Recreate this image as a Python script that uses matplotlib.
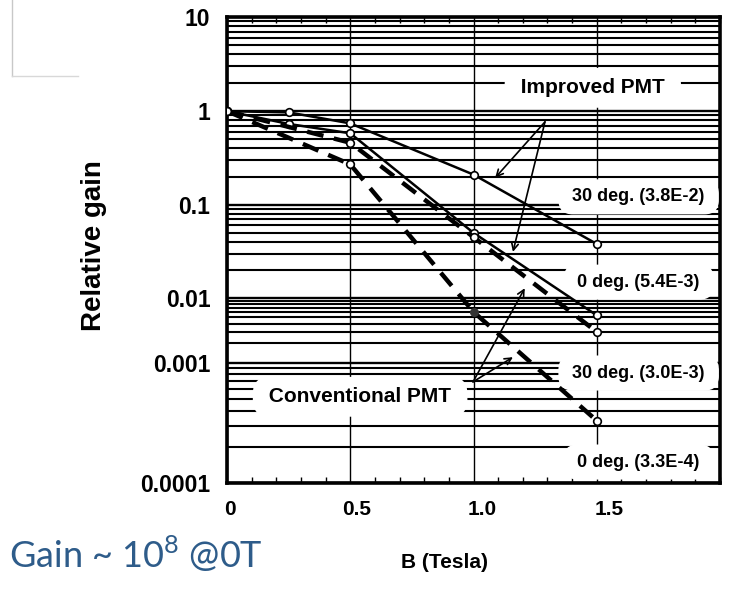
import numpy as np
import matplotlib
matplotlib.use("Agg")
from matplotlib import pyplot as plt
from matplotlib.ticker import FixedLocator, MultipleLocator, NullFormatter
from matplotlib.lines import Line2D
from matplotlib.transforms import ScaledTranslation

# Data
b_improved = [0, 0.25, 0.5, 1.0, 1.5]
improved_30 = [1.0, 0.97, 0.74, 0.21, 0.038]
improved_0 = [1.0, 0.73, 0.58, 0.05, 0.0054]

b_conv = [0, 0.5, 1.0, 1.5]
conv_30 = [1.0, 0.46, 0.045, 0.003]
conv_0 = [1.0, 0.27, 0.0061, 0.00033]

y_ticks = [10, 1, 0.1, 0.01, 0.001, 0.0001]
y_tick_labels = ['10', '1', '0.1', '0.01', '0.001', '0.0001']
x_ticks = [0, 0.5, 1.0, 1.5]
x_tick_labels = ['0', '0.5', '1.0', '1.5']

series_labels = ['30 deg. (3.8E-2)', '0 deg. (5.4E-3)',
                 '30 deg. (3.0E-3)', '0 deg. (3.3E-4)']

# The scanned graph paper has uneven decades: decade -> axes height
dec_log = [-4, -3, -2, -1, 0, 1]
dec_frac = [0.0, 0.258, 0.397, 0.597, 0.798, 1.0]

def fwd(y):
    y = np.clip(np.asarray(y, dtype=float), 1e-12, None)
    return np.interp(np.log10(y), dec_log, dec_frac, left=-1, right=2)

def inv(v):
    return 10 ** np.interp(np.asarray(v, dtype=float), dec_frac, dec_log)

plt.close("all")
fig = plt.figure(figsize=(7.4, 5.91), dpi=100)
ax = fig.add_axes([227/740, 1 - 483/591, 493/740, 466/591])

ax.set_yscale('function', functions=(fwd, inv))
ax.set_ylim(1e-4, 10)
ax.set_xlim(0, 2.0)

minor_y = [m * 10.0**e for e in range(-4, 1) for m in range(2, 10)]
ax.yaxis.set_major_locator(FixedLocator(y_ticks))
ax.yaxis.set_minor_locator(FixedLocator(minor_y))
ax.yaxis.set_minor_formatter(NullFormatter())
ax.set_yticklabels(y_tick_labels)
ax.xaxis.set_major_locator(FixedLocator(x_ticks))
ax.xaxis.set_minor_locator(MultipleLocator(0.1))
ax.set_xticklabels(x_tick_labels)

# graph paper grid
ax.grid(which='major', axis='y', color='black', lw=1.7, zorder=0)
ax.grid(which='minor', axis='y', color='black', lw=1.5, zorder=0)
ax.grid(which='major', axis='x', color='black', lw=1.0, zorder=0)
ax.set_axisbelow(True)

ax.tick_params(axis='both', which='major', length=0, pad=12)
ax.tick_params(axis='x', which='minor', direction='in', top=True,
               bottom=True, length=4, width=1)
ax.tick_params(axis='y', which='minor', length=0)
for s in ax.spines.values():
    s.set_linewidth(2.6)

for lab in ax.get_yticklabels():
    lab.set_fontfamily('Liberation Sans')
    lab.set_fontweight('bold')
    lab.set_fontsize(16.5)
# x labels in the scan sit a little right of their grid lines
for i, lab in enumerate(ax.get_xticklabels()):
    lab.set_fontfamily('Liberation Sans')
    lab.set_fontweight('bold')
    lab.set_fontsize(15)
    lab.set_transform(lab.get_transform() +
                      ScaledTranslation(0.03 + 0.03 * i, 0, fig.dpi_scale_trans))

# curves
mk = dict(marker='o', ms=5.5, mfc='white', mec='black', mew=1.2)
ax.plot(b_improved, improved_30, color='black', lw=1.8, zorder=4, **mk)
ax.plot(b_improved, improved_0, color='black', lw=1.8, zorder=4, **mk)
ax.plot(b_conv, conv_30, color='black', lw=3.2, ls=(0, (3.8, 2.4)), zorder=4, **mk)
ax.plot(b_conv, conv_0, color='black', lw=3.2, ls=(0, (3.8, 2.4)), zorder=4,
        marker='o', ms=5.5, mec='black', mew=1.2,
        markevery=[0, 1, 3], mfc='white')
ax.plot(b_conv[2], conv_0[2], marker='o', ms=5.5, color='#333333', zorder=5)

# label boxes
box = dict(boxstyle='round,pad=0.5,rounding_size=0.8', fc='white', ec='none')
txt = dict(family='Liberation Sans', weight='bold', ha='center', va='center',
           transform=ax.transAxes, zorder=3, bbox=box)
ax.text(0.742, 0.848, ' Improved PMT ', fontsize=15, **txt)
ax.text(0.270, 0.185, ' Conventional PMT ', fontsize=15, **txt)
for fy, lab in zip([0.614, 0.431, 0.236, 0.045], series_labels):
    ax.text(0.835, fy, ' ' + lab + ' ', fontsize=13, **txt)

# arrows
arr = dict(arrowstyle='->', lw=1.2, color='black', shrinkA=0, shrinkB=0,
           mutation_scale=12)
for head in [(0.544, 0.655), (0.580, 0.496)]:
    ax.annotate('', xy=head, xytext=(0.645, 0.775), xycoords='axes fraction',
                arrowprops=arr, zorder=6)
for head in [(0.604, 0.418), (0.580, 0.270)]:
    ax.annotate('', xy=head, xytext=(0.499, 0.217), xycoords='axes fraction',
                arrowprops=arr, zorder=6)

ax.set_ylabel('Relative gain', family='Liberation Sans', weight='bold',
              fontsize=20)
ax.yaxis.set_label_coords(-0.243, 0.51)
ax.set_xlabel('B (Tesla)', family='Liberation Sans', weight='bold', fontsize=15)
ax.xaxis.set_label_coords(0.442, -0.15)

# slide caption
fig.text(0.012, 0.062, 'Gain ~ 10$^{\\mathregular{8}}$ @0T', color='#2E5C8A',
         family='Lato', fontsize=26, va='center', ha='left')

# faint frame left over in the top left corner
fig.add_artist(Line2D([12/740, 12/740], [1.0, 1 - 76/591], color='#c8c8c8', lw=1))
fig.add_artist(Line2D([12/740, 78/740], [1 - 76/591, 1 - 76/591], color='#d8d8d8', lw=1))

fig.savefig('out.png', dpi=100)
